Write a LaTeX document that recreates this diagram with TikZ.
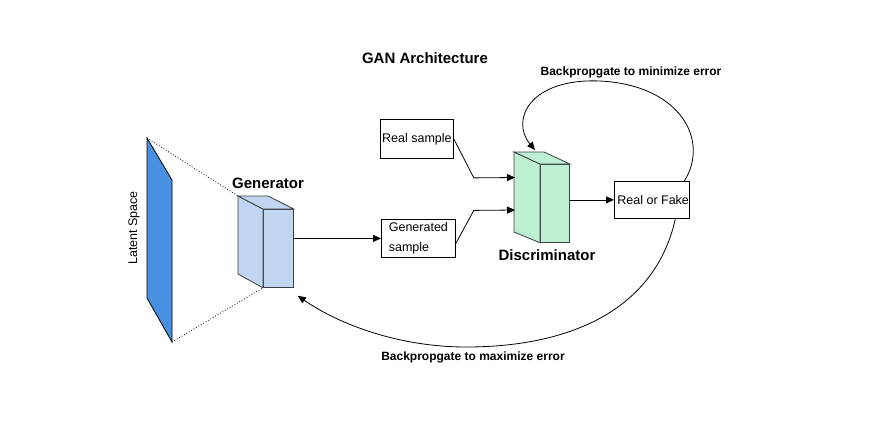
\documentclass[tikz,border=0pt]{standalone}
\usepackage{fontspec}
\setmainfont{Liberation Sans}
\usetikzlibrary{positioning,arrows.meta}

\definecolor{latentblue}{RGB}{74,144,226}
\definecolor{genfill}{RGB}{192,213,239}
\definecolor{discfill}{RGB}{189,240,211}
\definecolor{cubeline}{RGB}{60,64,68}

\tikzset{
  sbox/.style={draw, line width=0.8pt, inner sep=0pt, anchor=north west,
    font=\fontsize{12.5}{14}\selectfont},
  face/.style={draw=cubeline, line width=0.8pt},
  conn/.style={line width=0.8pt, -{Triangle[length=8pt,width=7pt]}},
  bigbold/.style={font=\fontsize{15}{17}\selectfont\bfseries},
  smallbold/.style={font=\fontsize{12}{14}\selectfont\bfseries}
}

\begin{document}
\begin{tikzpicture}[x=1pt,y=-1pt]
\useasboundingbox (0,0) rectangle (870,431);

% latent space
\coordinate (lt) at (147,138);
\coordinate (lb) at (172,342);
\draw[fill=latentblue, line width=0.8pt] (lt) -- (172,180) -- (lb) -- (147,298) -- cycle;
\node[rotate=90, font=\fontsize{12.5}{14}\selectfont] (latent) at (134,228) {Latent Space};

% generator cube
\node[face, fill=genfill, inner sep=0pt, anchor=north west,
  minimum width=30pt, minimum height=78pt] (gen) at (263,209) {};
\draw[face, fill=genfill] (gen.north west) -- ++(-25,-13) coordinate (gtl) -- ++(0,78) -- (gen.south west) -- cycle;
\draw[face, fill=genfill] (gen.north west) -- (gtl) -- ++(30,0) -- (gen.north east) -- cycle;
\node[bigbold] (genlabel) at (268,183) {Generator};

\draw[dotted, line width=0.8pt] (lt) -- (gtl);
\draw[dotted, line width=0.8pt] (lb) -- (gen.south west);

% samples
\node[sbox, minimum width=73pt, minimum height=39pt] (real) at (380,119) {Real sample};
\node[sbox, minimum width=74pt, minimum height=38pt, align=left] (gensample) at (381,219)
  {Generated\\[6pt]sample};

% discriminator cube
\node[face, fill=discfill, inner sep=0pt, anchor=north west,
  minimum width=29pt, minimum height=78pt] (disc) at (540,164) {};
\draw[face, fill=discfill] (disc.north west) -- ++(-26,-12) coordinate (dtl) -- ++(0,80) -- (disc.south west) -- cycle;
\draw[face, fill=discfill] (disc.north west) -- (dtl) -- ++(30,0) -- (disc.north east) -- cycle;
\node[bigbold] (disclabel) at (547,255) {Discriminator};
\coordinate (dinA) at (515,177.5);
\coordinate (dinB) at (515,210);
\coordinate (dtop) at (535,150);

% output
\node[sbox, minimum width=73pt, minimum height=37pt] (rof) at (614,181) {\hspace{3pt}Real or Fake};

% connectors
\draw[conn] (gen.east |- gensample.west) -- (gensample.west);
\draw[conn] (real.east) -- ++(20,39) -- (dinA);
\draw[conn] ([yshift=-5pt]gensample.east) -- ++(18,-33) -- (dinB);
\draw[conn] (disc.east |- rof.west) -- (rof.west);

% backpropagation
\coordinate (gret) at ([shift={(4,8)}]gen.south east);
\draw[conn] ([xshift=-5pt]rof.north east) .. controls (710,140) and (680,85) .. (600,81)
  .. controls (530,78) and (510,120) .. (dtop);
\draw[conn] ([xshift=-14pt]rof.south east) .. controls (655,310) and (570,347) .. (466,347)
  .. controls (400,347) and (340,325) .. (gret);

\node[smallbold] (bpmin) at (631,72) {Backpropgate to minimize error};
\node[smallbold] (bpmax) at (473,357) {Backpropgate to maximize error};
\node[bigbold] (title) at (425,58) {GAN Architecture};
\end{tikzpicture}
\end{document}
